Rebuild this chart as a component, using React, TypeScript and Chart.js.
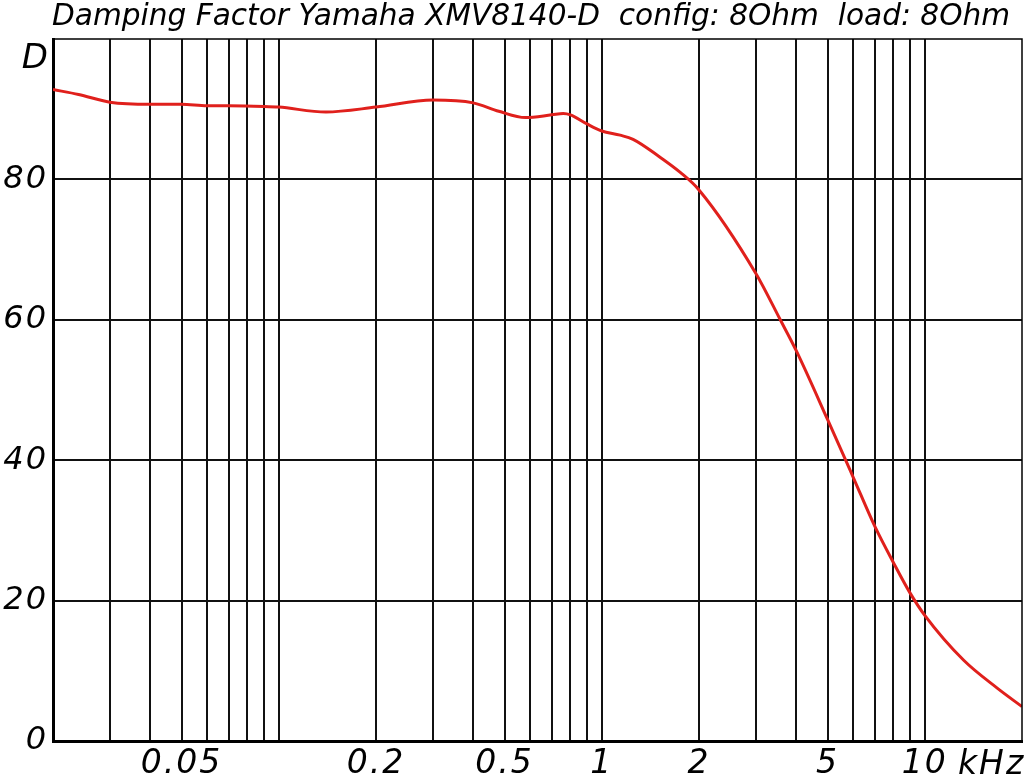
import React, { useEffect, useRef } from 'react';
import { Chart, registerables } from 'chart.js';

Chart.register(...registerables);

const titleText = 'Damping Factor Yamaha XMV8140-D  config: 8Ohm  load: 8Ohm';
const yAxisLabel = 'D';
const xUnitLabel = 'kHz';

// frequency in kHz
const freqKHz = [
  0.02, 0.024, 0.03, 0.04, 0.05, 0.06, 0.07, 0.09, 0.1, 0.14, 0.2, 0.3, 0.4, 0.48,
  0.58, 0.7, 0.76, 0.8, 0.9, 1.0, 1.14, 1.25, 1.5, 1.75, 2.0, 3.0, 3.57, 4.0, 5.0,
  6.0, 7.0, 8.0, 9.0, 10, 13.2, 16.8, 20,
];
// damping factor
const dampingFactor = [
  92.8, 92.1, 91.0, 90.7, 90.7, 90.5, 90.5, 90.4, 90.3, 89.6, 90.3, 91.3, 90.9, 89.7,
  88.8, 89.2, 89.4, 89.2, 87.9, 86.9, 86.3, 85.7, 83.3, 81.0, 78.5, 66.6, 60.0, 55.6, 45.8,
  37.6, 30.6, 25.4, 21.1, 17.9, 11.5, 7.5, 4.9,
];

const xGridValues = [
  0.03, 0.04, 0.05, 0.06, 0.07, 0.08, 0.09, 0.1,
  0.2, 0.3, 0.4, 0.5, 0.6, 0.7, 0.8, 0.9, 1,
  2, 3, 4, 5, 6, 7, 8, 9, 10,
];
const xLabelValues = [0.05, 0.2, 0.5, 1, 2, 5, 10];
const yTickValues = [0, 20, 40, 60, 80, 100];
const yLabelValues = [0, 20, 40, 60, 80];

const FONT = '"DejaVu Sans", sans-serif';

export default function App() {
  const ref = useRef<HTMLCanvasElement | null>(null);

  useEffect(() => {
    const canvas = ref.current;
    if (!canvas) return;

    const decor = {
      id: 'decor',
      beforeDraw(chart: any) {
        const ctx = chart.ctx;
        ctx.save();
        ctx.fillStyle = '#ffffff';
        ctx.fillRect(0, 0, chart.width, chart.height);
        ctx.restore();
        (ctx as any).letterSpacing = '2px';
      },
      afterDraw(chart: any) {
        const ctx = chart.ctx;
        const a = chart.chartArea;
        ctx.save();
        (ctx as any).letterSpacing = '0px';
        // top and right frame
        ctx.strokeStyle = '#000';
        ctx.lineWidth = 1.5;
        ctx.beginPath();
        ctx.moveTo(a.left, a.top);
        ctx.lineTo(a.right, a.top);
        ctx.lineTo(a.right, a.bottom);
        ctx.stroke();

        // title
        ctx.fillStyle = '#000';
        ctx.font = 'italic 30px ' + FONT;
        ctx.textAlign = 'left';
        ctx.textBaseline = 'alphabetic';
        const w = ctx.measureText(titleText).width;
        const sx = 958 / w;
        ctx.save();
        ctx.translate(52, 25);
        ctx.scale(sx, 1);
        ctx.fillText(titleText, 0, 0);
        ctx.restore();

        // y axis label
        ctx.font = 'italic 34px ' + FONT;
        ctx.textAlign = 'right';
        ctx.fillText(yAxisLabel, 48, 68);

        // x unit
        (ctx as any).letterSpacing = '2px';
        ctx.font = 'italic 33px ' + FONT;
        ctx.textAlign = 'left';
        ctx.fillText(xUnitLabel, 958, 774);
        ctx.restore();
        (ctx as any).letterSpacing = '0px';
      },
    };

    const chart = new Chart(canvas, {
      type: 'line',
      data: {
        datasets: [
          {
            data: freqKHz.map((f, i) => ({ x: f, y: dampingFactor[i] })),
            borderColor: '#e0201c',
            borderWidth: 3,
            pointRadius: 0,
            fill: false,
            cubicInterpolationMode: 'monotone',
          },
        ],
      },
      options: {
        animation: false,
        responsive: false,
        layout: { padding: { top: 39, right: 2, left: 0, bottom: 0 } },
        plugins: {
          legend: { display: false },
          title: { display: false },
          tooltip: { enabled: false },
        },
        scales: {
          x: {
            type: 'logarithmic',
            min: 0.02,
            max: 20,
            afterBuildTicks: (s: any) => {
              s.ticks = xGridValues.map((v) => ({ value: v }));
            },
            afterFit: (s: any) => {
              s.height = 35;
            },
            ticks: {
              autoSkip: false,
              maxRotation: 0,
              minRotation: 0,
              color: '#000',
              padding: 4,
              font: { family: FONT, size: 33, style: 'italic' },
              callback: (v: any) => (xLabelValues.includes(Number(v)) ? String(v) : ''),
            },
            grid: { color: '#111', lineWidth: 2, drawTicks: false },
            border: { color: '#000', width: 3 },
          },
          y: {
            type: 'linear',
            min: 0,
            max: 100,
            afterBuildTicks: (s: any) => {
              s.ticks = yTickValues.map((v) => ({ value: v }));
            },
            afterFit: (s: any) => {
              s.width = 53;
            },
            ticks: {
              color: '#000',
              padding: 5,
              font: { family: FONT, size: 32, style: 'italic' },
              callback: (v: any) => (yLabelValues.includes(Number(v)) ? String(v) : ''),
            },
            grid: {
              color: (c: any) =>
                c.tick && (c.tick.value === 0 || c.tick.value === 100) ? 'rgba(0,0,0,0)' : '#111',
              lineWidth: 2,
              drawTicks: false,
            },
            border: { color: '#000', width: 3 },
          },
        },
      },
      plugins: [decor],
    } as any);

    return () => chart.destroy();
  }, []);

  return (
    <div style={{ position: 'fixed', left: 0, top: 0, width: 1024, height: 776, background: '#fff' }}>
      <canvas ref={ref} width={1024} height={776} style={{ display: 'block' }} />
    </div>
  );
}
